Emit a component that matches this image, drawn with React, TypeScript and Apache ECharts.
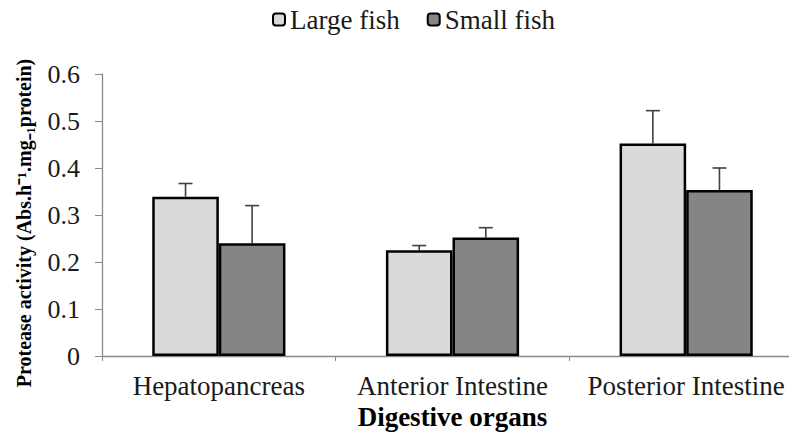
import React, { useEffect, useRef } from "react";
import * as echarts from "echarts";

const categories = ["Hepatopancreas", "Anterior Intestine", "Posterior Intestine"];
const largeFish = [0.339, 0.225, 0.452];
const largeErr = [0.028, 0.01, 0.07];
const smallFish = [0.24, 0.252, 0.353];
const smallErr = [0.08, 0.021, 0.047];
const yTicks = [0, 0.1, 0.2, 0.3, 0.4, 0.5, 0.6];

const CAT_GAP = 0.43;
const FONT = "Liberation Serif";

function errorSeries(name: string, values: number[], errs: number[], side: number) {
  return {
    type: "custom",
    name: name + "-err",
    silent: true,
    z: 1,
    data: values.map((v, i) => [i, v, errs[i]]),
    renderItem: (params: any, api: any) => {
      const ci = api.value(0);
      const v = api.value(1);
      const e = api.value(2);
      const base = api.coord([ci, v]);
      const top = api.coord([ci, v + e]);
      const band = api.size([1, 0])[0];
      const bw = (band * (1 - CAT_GAP)) / 2;
      const x = base[0] + side * bw / 2;
      const cap = 7;
      const style = { stroke: "#404040", lineWidth: 1.6 };
      return {
        type: "group",
        children: [
          { type: "line", shape: { x1: x, y1: base[1], x2: x, y2: top[1] }, style },
          { type: "line", shape: { x1: x - cap, y1: top[1], x2: x + cap, y2: top[1] }, style },
        ],
      };
    },
  };
}

export default function App() {
  const ref = useRef<HTMLDivElement>(null);
  useEffect(() => {
    if (!ref.current) return;
    const chart = echarts.init(ref.current, null, { renderer: "svg" });
    chart.setOption({
      animation: false,
      backgroundColor: "#ffffff",
      textStyle: { fontFamily: FONT },
      legend: {
        top: 1,
        left: 267,
        itemWidth: 12,
        itemHeight: 12,
        itemGap: 27,
        data: ["Large fish", "Small fish"],
        textStyle: { fontFamily: FONT, fontSize: 27, color: "#1a1a1a" },
      },
      grid: { left: 102, top: 74, width: 701, height: 282, outerBoundsMode: "none" },
      xAxis: {
        type: "category",
        data: categories,
        axisLine: { lineStyle: { color: "#8a8a8a", width: 1.3 } },
        axisTick: { show: true, alignWithLabel: false, length: 5, lineStyle: { color: "#8a8a8a" } },
        axisLabel: { fontFamily: FONT, fontSize: 27, color: "#1a1a1a", margin: 16, interval: 0 },
        name: "Digestive organs",
        nameLocation: "middle",
        nameGap: 46,
        nameTextStyle: { fontFamily: FONT, fontSize: 27, fontWeight: "bold", color: "#000" },
      },
      yAxis: {
        type: "value",
        min: 0,
        max: 0.6,
        interval: 0.1,
        splitLine: { show: false },
        axisLine: { show: true, lineStyle: { color: "#8a8a8a", width: 1.3 } },
        axisTick: { show: true, length: 7, lineStyle: { color: "#8a8a8a" } },
        axisLabel: {
          fontFamily: FONT,
          fontSize: 26,
          color: "#1a1a1a",
          margin: 22,
          formatter: (v: number) => {
            const t = yTicks.find((x) => Math.abs(x - v) < 1e-9);
            return t === undefined ? "" : "{n|" + String(t) + "}";
          },
          rich: { n: { fontFamily: FONT, fontSize: 26, color: "#1a1a1a" } },
        },
        name: "Protease activity (Abs.h⁻¹.mg₋₁protein)",
        nameLocation: "middle",
        nameGap: 68,
        nameTextStyle: { fontFamily: FONT, fontSize: 20, fontWeight: "bold", color: "#000", padding: [0, 16, 0, 0] },
      },
      series: [
        {
          type: "bar",
          name: "Large fish",
          data: largeFish,
          barGap: "0%",
          barCategoryGap: CAT_GAP * 100 + "%",
          z: 2,
          itemStyle: { color: "#dadada", borderColor: "#000", borderWidth: 2.5 },
        },
        {
          type: "bar",
          name: "Small fish",
          data: smallFish,
          barGap: "0%",
          barCategoryGap: CAT_GAP * 100 + "%",
          z: 2,
          itemStyle: { color: "#858585", borderColor: "#000", borderWidth: 2.5 },
        },
        errorSeries("Large fish", largeFish, largeErr, -1),
        errorSeries("Small fish", smallFish, smallErr, 1),
      ],
    });
    return () => chart.dispose();
  }, []);
  return <div ref={ref} style={{ width: 797, height: 441, margin: -8 }} />;
}
